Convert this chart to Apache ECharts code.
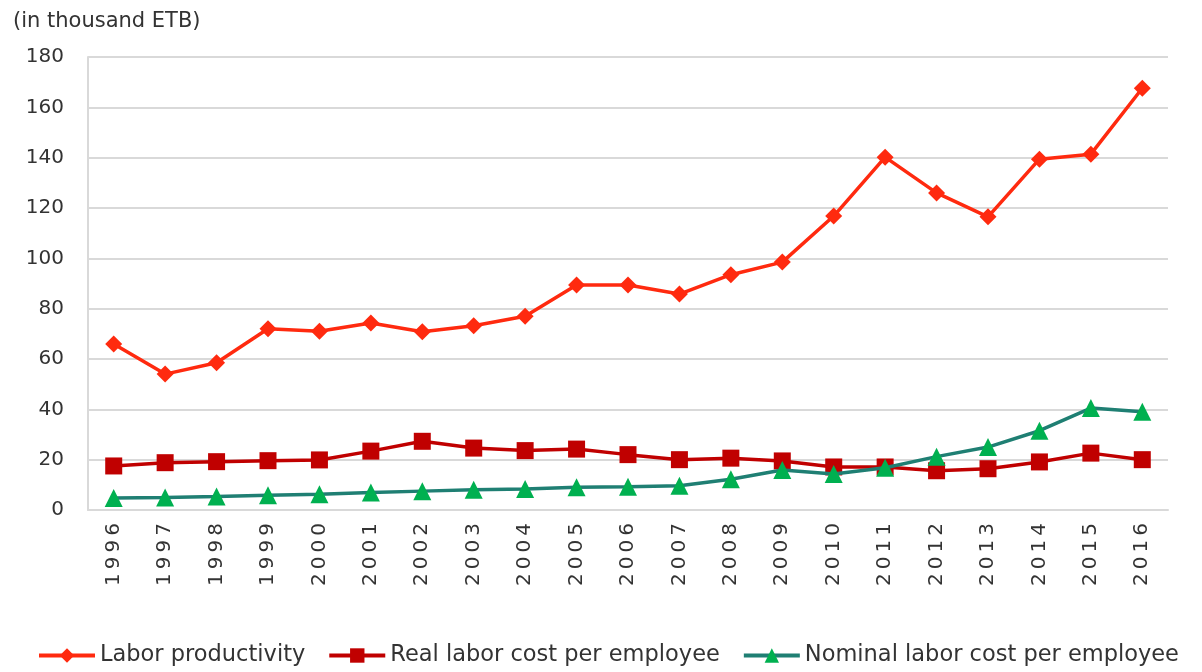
<!DOCTYPE html>
<html>
<head>
<meta charset="utf-8">
<script src="https://cdn.jsdelivr.net/npm/echarts@6/dist/echarts.min.js"></script>
<style>
  html, body { margin: 0; padding: 0; background: #fff; }
  #main { width: 1202px; height: 672px; }
</style>
</head>
<body>
<div id="main"></div>
<script>
var years = ['1996', '1997', '1998', '1999', '2000', '2001', '2002', '2003', '2004', '2005',
    '2006', '2007', '2008', '2009', '2010', '2011', '2012', '2013', '2014', '2015', '2016'];
var laborProductivity = [66, 54, 58.5, 72, 71, 74.3, 70.8, 73.2, 77, 89.4,
    89.4, 85.8, 93.5, 98.5, 116.8, 140.2, 126, 116.5, 139.4, 141.4, 167.6];
var realLaborCost = [17.5, 18.8, 19.2, 19.6, 19.9, 23.4, 27.3, 24.6, 23.6, 24.2,
    22, 20, 20.6, 19.5, 17.1, 17.1, 15.6, 16.4, 19.1, 22.6, 20];
var nominalLaborCost = [4.8, 5, 5.4, 5.9, 6.3, 7, 7.5, 8, 8.3, 9,
    9.2, 9.6, 12.2, 15.9, 14.3, 16.8, 21.2, 25, 31.5, 40.5, 39];
var yTicks = [0, 20, 40, 60, 80, 100, 120, 140, 160, 180];

var font = 'DejaVu Sans';
var textColor = '#333';
var chart = echarts.init(document.getElementById('main'));

chart.setOption({
    backgroundColor: '#fff',
    animation: false,
    title: {
        text: '(in thousand ETB)',
        left: 8,
        top: 6,
        textStyle: { fontFamily: font, fontSize: 21, fontWeight: 'normal', color: textColor }
    },
    legend: {
        bottom: 0,
        left: 32,
        itemWidth: 56,
        itemHeight: 18,
        itemGap: 22,
        lineStyle: { width: 4 },
        textStyle: { fontFamily: font, fontSize: 22.5, color: textColor },
        data: ['Labor productivity', 'Real labor cost per employee', 'Nominal labor cost per employee']
    },
    grid: { left: 88, right: 34, top: 57, bottom: 162 },
    xAxis: {
        type: 'category',
        data: years,
        boundaryGap: true,
        axisLine: { lineStyle: { color: '#d9d9d9', width: 2 } },
        axisTick: { show: false },
        axisLabel: {
            rotate: 90,
            interval: 0,
            margin: 13,
            fontFamily: font,
            fontSize: 20,
            color: textColor,
            formatter: function (v) { return v.split('').join('\u2009'); }
        }
    },
    yAxis: {
        type: 'value',
        min: yTicks[0],
        max: yTicks[yTicks.length - 1],
        interval: 20,
        axisLine: { show: true, lineStyle: { color: '#d9d9d9', width: 2 } },
        axisTick: { show: false },
        splitLine: { lineStyle: { color: '#d9d9d9', width: 2 } },
        axisLabel: { fontFamily: font, fontSize: 20, color: textColor, margin: 24 }
    },
    series: [{
        name: 'Labor productivity',
        type: 'line',
        data: laborProductivity,
        symbol: 'diamond',
        symbolSize: 17,
        lineStyle: { color: '#ff2a0f', width: 3.5 },
        itemStyle: { color: '#ff2a0f' },
        z: 3
    }, {
        name: 'Real labor cost per employee',
        type: 'line',
        data: realLaborCost,
        symbol: 'rect',
        symbolSize: 17,
        lineStyle: { color: '#c00000', width: 3.5 },
        itemStyle: { color: '#c00000' },
        z: 2
    }, {
        name: 'Nominal labor cost per employee',
        type: 'line',
        data: nominalLaborCost,
        symbol: 'triangle',
        symbolSize: 18,
        lineStyle: { color: '#1f7f73', width: 3.5 },
        itemStyle: { color: '#00b050' },
        z: 4
    }]
});
</script>
</body>
</html>
